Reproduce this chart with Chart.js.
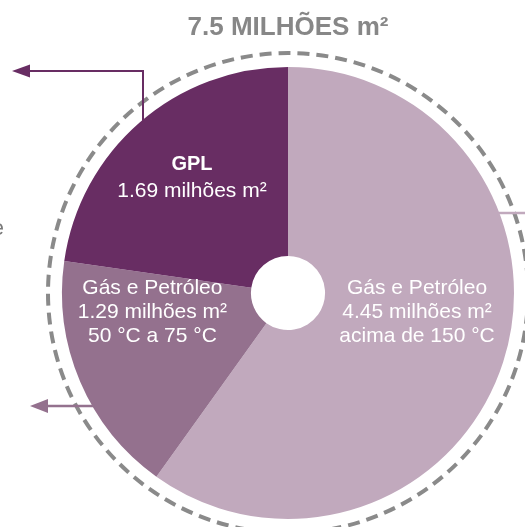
<!DOCTYPE html>
<html><head><meta charset="utf-8">
<script src="https://cdn.jsdelivr.net/npm/chart.js@4/dist/chart.umd.min.js"></script>
<style>html,body{margin:0;padding:0;background:#fff;}canvas{display:block}</style>
</head><body>
<canvas id="c" width="525" height="527"></canvas>
<script>
const categories = ['Gás e Petróleo acima de 150 °C', 'Gás e Petróleo 50 °C a 75 °C', 'GPL'];
const areaMillionM2 = [4.45, 1.29, 1.69];
const sliceColors = ['#c1a9bd', '#94718e', '#682d63'];
const titleText = '7.5 MILHÕES m²';
const labelHeads = ['Gás e Petróleo', 'Gás e Petróleo', 'GPL'];
const labelTails = ['acima de 150 °C', '50 °C a 75 °C', null];
const unitText = 'milhões m²';

const FONT = '"Liberation Sans", Arial, Helvetica, sans-serif';

const decor = {
  id: 'decor',
  beforeDatasetsDraw(chart) {
    const arc = chart.getDatasetMeta(0).data[0];
    const cx = arc.x, cy = arc.y, R = arc.outerRadius;
    const ctx = chart.ctx;
    ctx.save();
    ctx.strokeStyle = '#8a8a8a';
    ctx.lineWidth = 4;
    ctx.setLineDash([12, 7]);
    ctx.beginPath();
    ctx.arc(cx, cy, R + 14, 0, Math.PI * 2);
    ctx.stroke();
    ctx.restore();
  },
  afterDatasetsDraw(chart) {
    const arc = chart.getDatasetMeta(0).data[0];
    const cx = arc.x, cy = arc.y, R = arc.outerRadius;
    const ctx = chart.ctx;
    const edgeX = dy => Math.sqrt(R * R - dy * dy);
    const edgeY = dx => Math.sqrt(R * R - dx * dx);
    function arrowHead(tipX, y, len, half, color) {
      ctx.fillStyle = color;
      ctx.beginPath();
      ctx.moveTo(tipX, y);
      ctx.lineTo(tipX + len, y - half);
      ctx.lineTo(tipX + len, y + half);
      ctx.closePath();
      ctx.fill();
    }
    ctx.save();
    // GPL arrow (top-left)
    {
      const y = cy - 222, vx = cx - 145, tip = cx - 276;
      ctx.strokeStyle = sliceColors[2];
      ctx.lineWidth = 2;
      ctx.beginPath();
      ctx.moveTo(tip + 10, y);
      ctx.lineTo(vx, y);
      ctx.lineTo(vx, cy - edgeY(145) + 2);
      ctx.stroke();
      arrowHead(tip, y, 18, 6.5, sliceColors[2]);
    }
    // medium arrow (bottom-left)
    {
      const y = cy + 113, tip = cx - 258;
      ctx.strokeStyle = sliceColors[1];
      ctx.lineWidth = 2.5;
      ctx.beginPath();
      ctx.moveTo(tip + 10, y);
      ctx.lineTo(cx - edgeX(113) + 2, y);
      ctx.stroke();
      arrowHead(tip, y, 18, 7, sliceColors[1]);
    }
    // light line (right)
    {
      const y = cy - 80;
      ctx.strokeStyle = sliceColors[0];
      ctx.lineWidth = 2.5;
      ctx.beginPath();
      ctx.moveTo(cx + edgeX(80) - 2, y);
      ctx.lineTo(chart.width, y);
      ctx.stroke();
    }
    // slice labels
    const anchors = [[0.571, 0.084], [-0.6, 0.084], [-0.425, -0.509]];
    ctx.fillStyle = '#ffffff';
    ctx.textAlign = 'center';
    ctx.textBaseline = 'middle';
    areaMillionM2.forEach((v, i) => {
      const lines = [labelHeads[i], v.toFixed(2) + ' ' + unitText];
      if (labelTails[i]) lines.push(labelTails[i]);
      const step = i === 2 ? 26 : 24;
      const ax = cx + anchors[i][0] * R, ay = cy + anchors[i][1] * R;
      const y0 = ay - step * (lines.length - 1) / 2;
      lines.forEach((t, k) => {
        ctx.font = (i === 2 && k === 0 ? 'bold 20px ' : '21px ') + FONT;
        ctx.fillText(t, ax, y0 + k * step);
      });
    });
    // clipped neighbour text at left edge
    ctx.fillStyle = '#7a7a7a';
    ctx.font = '22px ' + FONT;
    ctx.textAlign = 'right';
    ctx.fillText('e', 4, cy - 64);
    ctx.restore();
  }
};

new Chart(document.getElementById('c'), {
  type: 'doughnut',
  data: {
    labels: categories,
    datasets: [{
      data: areaMillionM2,
      backgroundColor: sliceColors,
      borderWidth: 0,
      hoverOffset: 0
    }]
  },
  options: {
    responsive: false,
    animation: false,
    cutout: '16.4%',
    rotation: 0,
    layout: { padding: { left: 62, right: 11, top: 0, bottom: 8 } },
    plugins: {
      legend: { display: false },
      tooltip: { enabled: false },
      title: {
        display: true,
        text: titleText,
        color: '#878787',
        font: { family: FONT, size: 26, weight: 'bold', lineHeight: 1.15 },
        padding: { top: 13, bottom: 24.1 }
      }
    }
  },
  plugins: [decor]
});
</script>
</body></html>
